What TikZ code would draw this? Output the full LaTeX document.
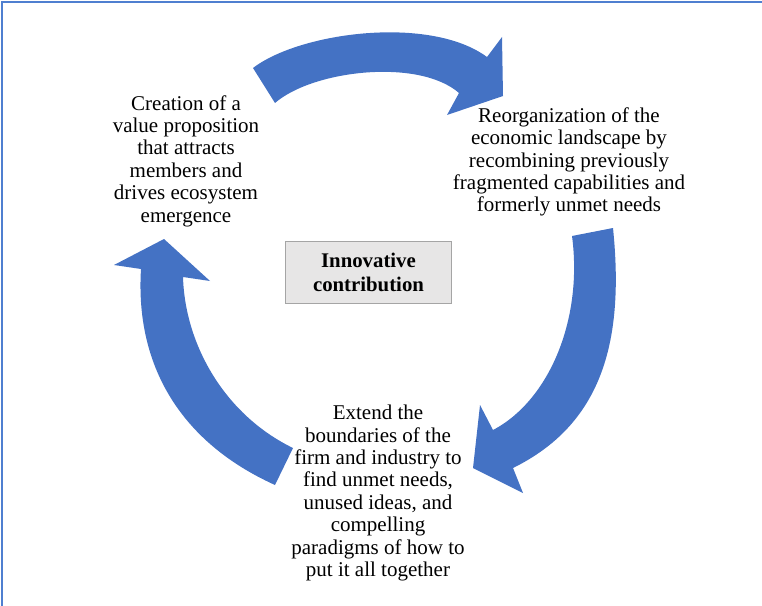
\documentclass[tikz,border=0pt]{standalone}
\usepackage{fontspec}
\setmainfont{Liberation Serif}
\definecolor{arrowblue}{HTML}{4472C4}
\definecolor{framecol}{HTML}{4F7FD0}
\definecolor{boxfill}{HTML}{E7E6E6}
\definecolor{boxline}{HTML}{A5A5A5}
\tikzset{
  cyclearrow/.style={fill=arrowblue, draw=none},
  steptext/.style={align=center, inner sep=0pt, font=\fontsize{21bp}{22.4bp}\selectfont},
  centerbox/.style={draw=boxline, line width=1.5bp, fill=boxfill, align=center,
    minimum width=166bp, minimum height=62bp, inner sep=0pt,
    font=\fontsize{20.8bp}{24bp}\selectfont\bfseries},
  frameline/.style={draw=framecol, line width=2bp}
}
\begin{document}
\begin{tikzpicture}[x=1bp, y=-1bp]
\useasboundingbox (0,0) rectangle (762,606);
% frame (top and left edges)
\coordinate (fa) at (2,606);
\coordinate (fb) at (2,2);
\coordinate (fc) at (762,2);
\draw[frameline] (fa) -- (fb) -- (fc);

% top arrow
\fill[cyclearrow] (253,68) .. controls (300,32) and (430,15) .. (487,57)
  -- (502,37) -- (503,96) -- (447,115) -- (459,93)
  .. controls (419,58) and (313,70) .. (275,103) -- cycle;
% right arrow
\fill[cyclearrow] (613,228) .. controls (625,345) and (600,425) .. (513,468)
  -- (523,493) -- (473,468) -- (480,405) -- (493,430)
  .. controls (550,400) and (583,318) .. (572,236) -- cycle;
% left arrow
\fill[cyclearrow] (275,485) .. controls (180,442) and (135,365) .. (141,269)
  -- (114,265) -- (164,239) -- (210,281) -- (183,277)
  .. controls (185,345) and (225,415) .. (293,448) -- cycle;

\node[steptext] (create) at (186,161) {Creation of a\\value proposition\\that attracts\\members and\\drives ecosystem\\emergence};
\node[steptext] (reorg) at (569,162) {Reorganization of the\\economic landscape by\\recombining previously\\fragmented capabilities and\\formerly unmet needs};
\node[steptext] (extend) at (378,493) {Extend the\\boundaries of the\\firm and industry to\\find unmet needs,\\unused ideas, and\\compelling\\paradigms of how to\\put it all together};
\node[centerbox] (center) at (368.5,272.5) {Innovative\\contribution};
\end{tikzpicture}
\end{document}
